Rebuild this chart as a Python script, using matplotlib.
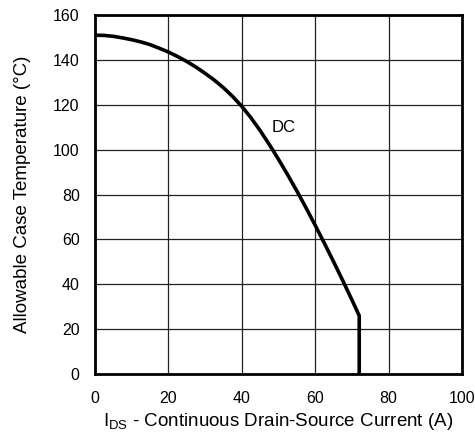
import matplotlib
matplotlib.use('Agg')
import matplotlib.pyplot as plt

# Derating curve
current = [0, 2.5, 5, 7.5, 10, 12.5, 15, 17.5, 20, 22.5, 25, 27.5, 30, 32.5, 35,
           37.5, 40, 42.5, 45, 47.5, 50, 52.5, 55, 57.5, 60, 62.5, 65, 67.5, 70, 72, 72]
case_temp = [151, 150.9, 150.5, 149.8, 149, 148, 146.8, 145.2, 143.5, 141.5, 139.3, 136.8, 134, 131, 127.6,
             123.7, 119.3, 114.2, 108.5, 102.3, 95.7, 88.8, 81.6, 74.1, 66.3, 58.3, 50.1, 41.7, 33.1, 26, 0]

x_ticks = [0, 20, 40, 60, 80, 100]
y_ticks = [0, 20, 40, 60, 80, 100, 120, 140, 160]

plt.rcParams['font.family'] = ['Liberation Sans', 'DejaVu Sans']
plt.rcParams['font.size'] = 11.5

fig = plt.figure(figsize=(4.75, 4.36), dpi=100)
ax = fig.add_axes([0.2, 0.142, 0.7726, 0.8236])

ax.plot(current, case_temp, color='black', linewidth=2.6, solid_joinstyle='round')
ax.text(51.3, 110, 'DC', fontsize=12, ha='center', va='center')

ax.set_xlim(0, 100)
ax.set_ylim(0, 160)
ax.set_xticks(x_ticks)
ax.set_yticks(y_ticks)
ax.grid(True, color='#222222', linewidth=0.9)
ax.set_axisbelow(True)
ax.tick_params(axis='x', length=0, pad=12, labelsize=11.5)
ax.tick_params(axis='y', length=0, pad=11, labelsize=11.5)

for s in ax.spines.values():
    s.set_linewidth(2.0)

ax.set_xlabel(r'I$_{\mathregular{DS}}$ - Continuous Drain-Source Current (A)', fontsize=13.5, labelpad=4)
ax.set_ylabel('Allowable Case Temperature (°C)', fontsize=13.5, labelpad=16)

fig.savefig('out.png', dpi=100)
